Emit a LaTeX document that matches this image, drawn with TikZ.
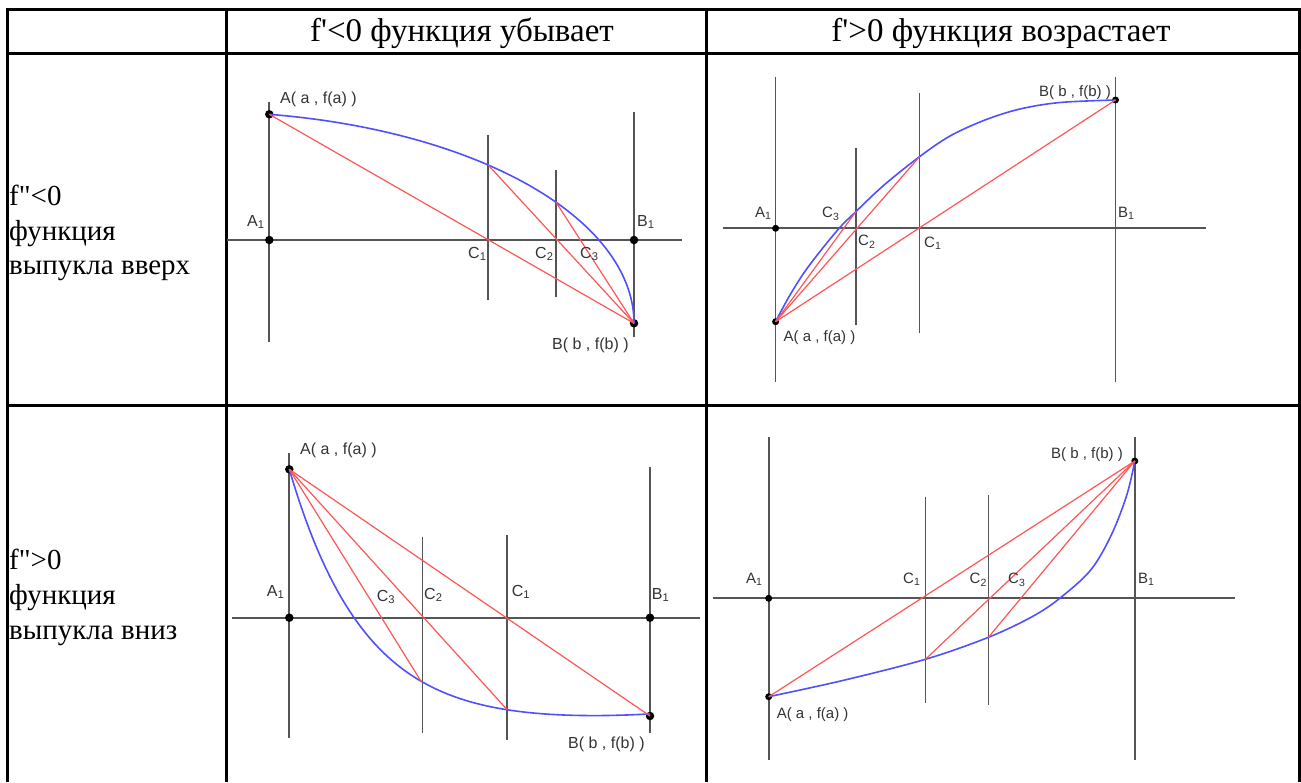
\documentclass[tikz,border=0pt]{standalone}
\usepackage{fontspec}
\newfontfamily\tms{Liberation Serif}
\newfontfamily\lab{Liberation Sans}
\definecolor{axc}{RGB}{85,85,85}
\definecolor{bc}{RGB}{80,80,255}
\definecolor{rc}{RGB}{255,85,85}
\tikzset{
 tbl/.style={line width=3pt, black},
 ax/.style={draw=axc, line width=1.7pt},
 crv/.style={draw=bc, line width=1.6pt},
 chd/.style={draw=rc, line width=1.2pt},
 dotc/.style={circle, fill=black, inner sep=0pt, minimum size=8.5pt},
 dots/.style={circle, fill=black, inner sep=0pt, minimum size=7pt},
 lbl/.style={font=\lab\fontsize{15}{15}\selectfont, text=black!80, inner sep=0pt, anchor=north west},
 lblb/.style={font=\lab\fontsize{16}{16}\selectfont, text=black!80, inner sep=0pt, anchor=north west},
 ttext/.style={font=\tms\fontsize{29}{35}\selectfont, inner sep=0pt, anchor=base west},
 htext/.style={font=\tms\fontsize{33}{35}\selectfont, inner sep=0pt, anchor=base},
}
\begin{document}
\begin{tikzpicture}[x=1pt,y=-1pt]
\useasboundingbox (0,0) rectangle (1301,782);
% ---------- table ----------
\draw[tbl] (6,9.5) -- (1301,9.5);
\draw[tbl] (6,53.5) -- (1301,53.5);
\draw[tbl] (6,405.5) -- (1301,405.5);
\draw[tbl] (7.5,8) -- (7.5,782);
\draw[tbl] (226.5,8) -- (226.5,782);
\draw[tbl] (706.5,8) -- (706.5,782);
\draw[tbl] (1299.5,8) -- (1299.5,782);
\node[htext] (h1) at (462,41) {f'<0 функция убывает};
\node[htext] (h2) at (1001,41) {f'>0 функция возрастает};
\node[ttext] (r1a) at (9,205) {f"<0};
\node[ttext] (r1b) at (9,240) {функция};
\node[ttext] (r1c) at (9,274) {выпукла вверх};
\node[ttext] (r2a) at (9,569) {f">0};
\node[ttext] (r2b) at (9,604) {функция};
\node[ttext] (r2c) at (9,639) {выпукла вниз};

% ---------- graph 1 (top middle) ----------
\coordinate (aA) at (269.3,114.3);
\coordinate (aB) at (634,323.3);
\coordinate (aA1) at (269.3,240);
\coordinate (aB1) at (634,240);
\coordinate (aP1) at (488.3,165.1);
\coordinate (aP2) at (556,202.2);
\draw[ax] (227,240) -- (681.7,240);
\draw[ax] (269.3,101.7) -- (269.3,341.7);
\draw[ax] (634,111.7) -- (634,336.7);
\draw[ax] (488.3,135) -- (488.3,300);
\draw[ax] (556,170) -- (556,296.7);
\node[dotc] (daA) at (aA) {};
\node[dotc] (daA1) at (aA1) {};
\node[dotc] (daB1) at (aB1) {};
\node[dotc] (daB) at (aB) {};
\draw[crv] plot[domain=80.8:0, samples=80] ({200+434*cos(\x)},{323.3-211.7*sin(\x)});
\draw[chd] (aA) -- (aB);
\draw[chd] (aP1) -- (aB);
\draw[chd] (aP2) -- (aB);
\node[lblb] (laA) at (280,92) {A( a , f(a) )};
\node[lblb] (laA1) at (247,215) {A\textsubscript{1}};
\node[lblb] (laB1) at (637,215) {B\textsubscript{1}};
\node[lblb] (laC1) at (468,247) {C\textsubscript{1}};
\node[lblb] (laC2) at (535,247) {C\textsubscript{2}};
\node[lblb] (laC3) at (580,247) {C\textsubscript{3}};
\node[lblb] (laB) at (552,338) {B( b , f(b) )};

% ---------- graph 2 (top right) ----------
\coordinate (bA) at (775.6,321.7);
\coordinate (bB) at (1115.5,100);
\coordinate (bA1) at (775.6,228.3);
\coordinate (bP1) at (919.5,156.7);
\coordinate (bP2) at (855.8,211.7);
\draw[ax] (722.9,228.3) -- (1206,228.3);
\draw[ax] (775.6,76.7) -- (775.6,381.7);
\draw[ax] (1115.5,76.7) -- (1115.5,381.7);
\draw[ax] (919.5,93.3) -- (919.5,333.3);
\draw[ax] (855.8,148.3) -- (855.8,325);
\node[dots] (dbA1) at (bA1) {};
\node[dots] (dbA) at (bA) {};
\node[dots] (dbB) at (bB) {};
\draw[crv] plot[smooth, tension=0.55] coordinates {(bA) (790,295) (808.3,266.7) (837.6,230) (bP2) (884.1,185) (bP1) (950,136) (985,120) (1020,109) (1060,102.5) (bB)};
\draw[chd] (bA) -- (bB);
\draw[chd] (bA) -- (bP1);
\draw[chd] (bA) -- (bP2);
\node[lbl] (lbB) at (1039,85) {B( b , f(b) )};
\node[lbl] (lbA1) at (755,207) {A\textsubscript{1}};
\node[lbl] (lbC3) at (822,207) {C\textsubscript{3}};
\node[lbl] (lbC2) at (858,235) {C\textsubscript{2}};
\node[lbl] (lbC1) at (924,237) {C\textsubscript{1}};
\node[lbl] (lbB1) at (1118,207) {B\textsubscript{1}};
\node[lbl] (lbA) at (783.5,330) {A( a , f(a) )};

% ---------- graph 3 (bottom middle) ----------
\coordinate (cA) at (289.3,469.3);
\coordinate (cB) at (650,716);
\coordinate (cA1) at (289.3,617.7);
\coordinate (cB1) at (650,617.7);
\coordinate (cP1) at (507.3,709.9);
\coordinate (cP2) at (421.3,681.7);
\draw[ax] (231.7,617.7) -- (700,617.7);
\draw[ax] (289.3,453.3) -- (289.3,738.3);
\draw[ax] (650,466.7) -- (650,733.3);
\draw[ax] (507.3,535) -- (507.3,740);
\draw[ax] (422.5,536.7) -- (422.5,733.3);
\node[dotc] (dcA) at (cA) {};
\node[dotc] (dcA1) at (cA1) {};
\node[dotc] (dcB1) at (cB1) {};
\node[dotc] (dcB) at (cB) {};
\draw[crv] plot[domain=0:360.7, samples=90] ({289.3+\x},{726-256.7*exp(-\x/75)-10*(\x/360.7)^3});
\draw[chd] (cA) -- (cB);
\draw[chd] (cA) -- (cP1);
\draw[chd] (cA) -- (cP2);
\node[lblb] (lcA) at (300,443) {A( a , f(a) )};
\node[lblb] (lcA1) at (266.7,585) {A\textsubscript{1}};
\node[lblb] (lcC3) at (376.7,590) {C\textsubscript{3}};
\node[lblb] (lcC2) at (424,588) {C\textsubscript{2}};
\node[lblb] (lcC1) at (511.7,585) {C\textsubscript{1}};
\node[lblb] (lcB1) at (651.7,588) {B\textsubscript{1}};
\node[lblb] (lcB) at (568,737) {B( b , f(b) )};

% ---------- graph 4 (bottom right) ----------
\coordinate (dA) at (768.7,696.7);
\coordinate (dB) at (1134.8,461);
\coordinate (dA1) at (768.7,598.3);
\coordinate (dP1) at (925.4,659.3);
\coordinate (dP2) at (988.4,637.3);
\draw[ax] (712.6,598.3) -- (1235.3,598.3);
\draw[ax] (768.7,437.3) -- (768.7,760);
\draw[ax] (1134.8,437.3) -- (1134.8,760);
\draw[ax] (925.4,496.7) -- (925.4,703.3);
\draw[ax] (988.4,495) -- (988.4,705);
\node[dots] (ddA1) at (dA1) {};
\node[dots] (ddA) at (dA) {};
\node[dots] (ddB) at (dB) {};
\draw[crv] plot[smooth, tension=0.55] coordinates {(dA) (842.7,680.5) (dP1) (dP2) (1032.1,616.7) (1059.7,598.3) (1090.7,570) (1111.3,535) (1126.8,495) (dB)};
\draw[chd] (dA) -- (dB);
\draw[chd] (dP1) -- (dB);
\draw[chd] (dP2) -- (dB);
\node[lbl] (ldB) at (1051,447) {B( b , f(b) )};
\node[lbl] (ldA1) at (746,573) {A\textsubscript{1}};
\node[lbl] (ldC1) at (903,573) {C\textsubscript{1}};
\node[lbl] (ldC2) at (969.5,573) {C\textsubscript{2}};
\node[lbl] (ldC3) at (1008,573) {C\textsubscript{3}};
\node[lbl] (ldB1) at (1138,573) {B\textsubscript{1}};
\node[lbl] (ldA) at (776.6,707) {A( a , f(a) )};
\end{tikzpicture}
\end{document}
